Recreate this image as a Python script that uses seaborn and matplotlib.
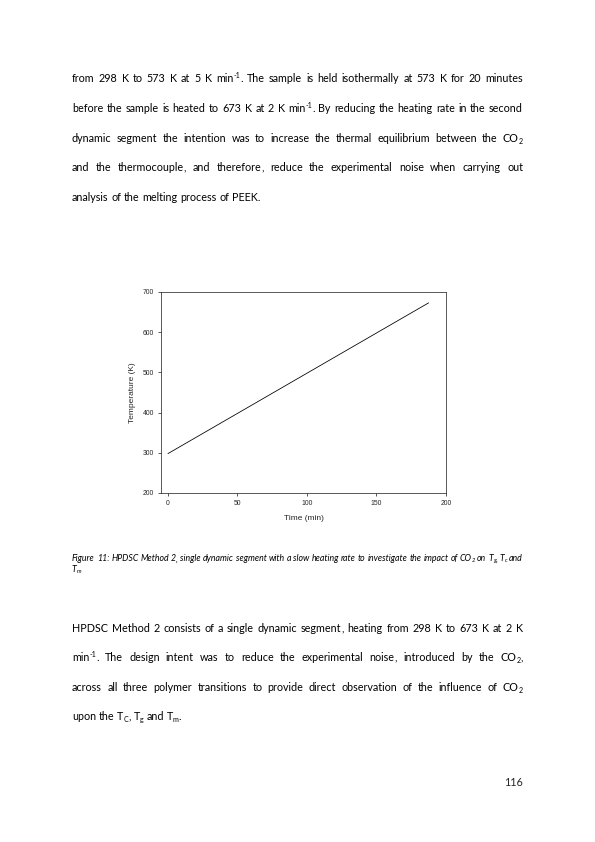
import re
import numpy as np
import matplotlib
matplotlib.use("Agg")
import matplotlib.pyplot as plt
import seaborn as sns

# Heating programme of HPDSC Method 2 (single ramp, 2 K/min)
time_min = [0, 187.5]
temperature_k = [298, 673]
x_ticks = [0, 50, 100, 150, 200]
y_ticks = [200, 300, 400, 500, 600, 700]

# ^{..} = superscript, _{..} = subscript
para_top = [
    "from 298 K to 573 K at 5 K min^{-1}. The sample is held isothermally at 573 K for 20 minutes",
    "before the sample is heated to 673 K at 2 K min^{-1}. By reducing the heating rate in the second",
    "dynamic segment the intention was to increase the thermal equilibrium between the CO_{2}",
    "and the thermocouple, and therefore, reduce the experimental noise when carrying out",
    "analysis of the melting process of PEEK.",
]
para_bottom = [
    "HPDSC Method 2 consists of a single dynamic segment, heating from 298 K to 673 K at 2 K",
    "min^{-1}. The design intent was to reduce the experimental noise, introduced by the CO_{2},",
    "across all three polymer transitions to provide direct observation of the influence of CO_{2}",
    "upon the T_{C}, T_{g} and T_{m}.",
]
caption = [
    "Figure 11: HPDSC Method 2, single dynamic segment with a slow heating rate to investigate the impact of CO_{2} on T_{g}, T_{c} and",
    "T_{m}",
]

sns.set_style("ticks")
plt.rcParams["font.family"] = ["Lato", "DejaVu Sans"]

W, H = 595, 842
LEFT, RIGHT = 72, 523


def comma_shift(size, style):
    # Agg lifts a lone comma a little; find by how much so it can sit on the baseline
    f = plt.figure(figsize=(1, 1), dpi=72)
    f.patch.set_facecolor("white")
    f.text(0.2, 0.5, "x", fontsize=size, style=style, va="baseline", color="black")
    f.text(0.6, 0.5, ",", fontsize=size, style=style, va="baseline", color="black")
    f.canvas.draw()
    r = f.canvas.get_renderer()
    d = r.get_text_width_height_descent(",", matplotlib.font_manager.FontProperties(
        family=plt.rcParams["font.family"], size=size, style=style), False)[2]
    img = np.asarray(f.canvas.buffer_rgba())[:, :, 0]
    plt.close(f)
    rows_x = np.where((img[:, 5:40] < 160).any(axis=1))[0]
    rows_c = np.where((img[:, 41:72] < 160).any(axis=1))[0]
    if len(rows_x) == 0 or len(rows_c) == 0:
        return 0.0
    return (rows_x.max() + d) - rows_c.max()


fig = plt.figure(figsize=(W / 72, H / 72), dpi=72)
fig.patch.set_facecolor("white")
renderer = fig.canvas.get_renderer()


def text_width(s, size, style):
    t = fig.text(0, 0, s, fontsize=size, style=style)
    w = t.get_window_extent(renderer).width
    t.remove()
    return w


def split_word(word):
    parts = []
    for piece in re.split(r"(\^\{[^}]*\}|_\{[^}]*\}|,)", word):
        if not piece:
            continue
        if piece.startswith("^{"):
            parts.append((piece[2:-1], "sup"))
        elif piece.startswith("_{"):
            parts.append((piece[2:-1], "sub"))
        elif piece == ",":
            parts.append((piece, "comma"))
        else:
            parts.append((piece, "normal"))
    return parts


def put_line(y, text, size, style="normal", justify=True, cshift=0.0):
    y = round(y)
    words = []
    for word in text.split(" "):
        segs = []
        for s, kind in split_word(word):
            fs = size * 0.66 if kind in ("sup", "sub") else size
            dy = {"normal": 0, "comma": cshift,
                  "sup": -0.36 * size, "sub": 0.14 * size}[kind]
            t = fig.text(0, 1 - (y + dy) / H, s, fontsize=fs, style=style,
                         color="black", va="baseline", ha="left")
            segs.append((t, t.get_window_extent(renderer).width))
        words.append(segs)
    widths = [sum(w for _, w in segs) for segs in words]
    if justify and len(words) > 1:
        gap = (RIGHT - LEFT - sum(widths)) / (len(words) - 1)
    else:
        gap = text_width("a a", size, style) - text_width("aa", size, style)
    x = LEFT
    for segs, ww in zip(words, widths):
        sx = x
        for t, w in segs:
            t.set_x(sx / W)
            sx += w
        x += ww + gap


body_size = 10.8
cap_size = 8.7
body_shift = comma_shift(body_size, "normal")
cap_shift = comma_shift(cap_size, "italic")

for i, line in enumerate(para_top):
    put_line(82 + i * 29.8, line, body_size, justify=i < len(para_top) - 1, cshift=body_shift)
for i, line in enumerate(para_bottom):
    put_line(632 + i * 29.4, line, body_size, justify=i < len(para_bottom) - 1, cshift=body_shift)
for i, line in enumerate(caption):
    put_line(561 + i * 11.5, line, cap_size, style="italic", justify=False, cshift=cap_shift)

fig.text(RIGHT / W, 1 - 786 / H, "116", fontsize=body_size, ha="right", va="baseline")

# chart
ax = fig.add_axes([161 / W, 1 - 493 / H, (446 - 161) / W, (493 - 292) / H])
sns.lineplot(x=time_min, y=temperature_k, ax=ax, color="black", linewidth=0.8)
ax.set_xlim(-5, 200)
ax.set_ylim(200, 700)
ax.set_xticks(x_ticks)
ax.set_yticks(y_ticks)
chart_font = {"family": "Liberation Sans"}
ax.set_xticklabels([str(v) for v in x_ticks], fontdict=chart_font, fontsize=6.8)
ax.set_yticklabels([str(v) for v in y_ticks], fontdict=chart_font, fontsize=6.8)
ax.set_xlabel("Time (min)", fontdict=chart_font, fontsize=8.4, labelpad=8)
ax.set_ylabel("Temperature (K)", fontdict=chart_font, fontsize=8.4, labelpad=7)
for side in ["left", "right", "top", "bottom"]:
    ax.spines[side].set_visible(True)
    ax.spines[side].set_linewidth(0.8)
    ax.spines[side].set_color("#333333")
ax.tick_params(direction="out", length=3, width=0.8, color="#333333", pad=4)
ax.grid(False)

fig.savefig("out.png", dpi=72, facecolor="white")
